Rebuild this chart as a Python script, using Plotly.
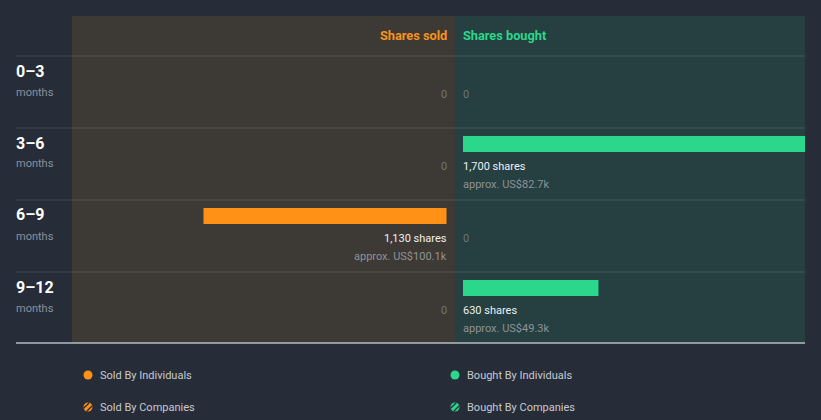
import plotly.graph_objects as go

# ---- data ----
periods = ["0\u20133", "3\u20136", "6\u20139", "9\u201312"]
period_unit = ["months", "months", "months", "months"]
sold_shares = [0, 0, 1130, 0]
sold_value = ["", "", "US$100.1k", ""]
bought_shares = [0, 1700, 0, 630]
bought_value = ["", "US$82.7k", "", "US$49.3k"]
legend_labels = ["Sold By Individuals", "Bought By Individuals",
                 "Sold By Companies", "Bought By Companies"]

# ---- style / layout ----
W, H = 821, 420
BG = "#262c38"
SOLD_BG = "#3d3935"
BOUGHT_BG = "#263f41"
ORANGE = "#ff9216"
GREEN = "#2bd78a"
FONT = "Roboto"

ROW_H = 72.0          # px per row
ROW0_CENTER = 92.0    # px centre of first row
PX_PER_SHARE = 243.0 / 1130.0

SOLD_L, MID, BOUGHT_R = 72, 455, 805
SOLD_ZERO, BOUGHT_ZERO = 446.5, 463
PANEL_T, PANEL_B = 16, 343
PAD = 2  # annotation inner padding compensation


def px(x):
    return x / W


def py(y):
    return 1 - y / H


fig = go.Figure()

fig.add_trace(go.Bar(
    x=sold_shares, y=list(range(len(periods))), orientation="h",
    xaxis="x", yaxis="y", marker=dict(color=ORANGE, line=dict(width=0)),
    offset=-28 / ROW_H, width=16 / ROW_H, hoverinfo="skip", showlegend=False,
))
fig.add_trace(go.Bar(
    x=bought_shares, y=list(range(len(periods))), orientation="h",
    xaxis="x2", yaxis="y", marker=dict(color=GREEN, line=dict(width=0)),
    offset=-28 / ROW_H, width=16 / ROW_H, hoverinfo="skip", showlegend=False,
))

shapes = []
# panels
shapes.append(dict(type="rect", xref="paper", yref="paper", layer="below",
                   x0=px(SOLD_L), x1=px(MID), y0=py(PANEL_B), y1=py(PANEL_T),
                   fillcolor=SOLD_BG, line=dict(width=0)))
shapes.append(dict(type="rect", xref="paper", yref="paper", layer="below",
                   x0=px(MID), x1=px(BOUGHT_R), y0=py(PANEL_B), y1=py(PANEL_T),
                   fillcolor=BOUGHT_BG, line=dict(width=0)))
# row separators
for i in range(len(periods)):
    ytop = ROW0_CENTER - ROW_H / 2 + ROW_H * i
    shapes.append(dict(type="line", xref="paper", yref="paper", layer="above",
                       x0=px(16), x1=px(BOUGHT_R), y0=py(ytop), y1=py(ytop),
                       line=dict(color="rgba(255,255,255,0.13)", width=1)))
shapes.append(dict(type="line", xref="paper", yref="paper", layer="above",
                   x0=px(16), x1=px(BOUGHT_R), y0=py(PANEL_B), y1=py(PANEL_B),
                   line=dict(color="#b4bcc2", width=1.5)))

annotations = []
annotations.append(dict(text="<b>Shares sold</b>", xref="paper", yref="paper",
                        x=px(447), y=py(35), xanchor="right", yanchor="middle", xshift=PAD,
                        showarrow=False, font=dict(family=FONT, size=12.75, color="#f7931a")))
annotations.append(dict(text="<b>Shares bought</b>", xref="paper", yref="paper",
                        x=px(463), y=py(35), xanchor="left", yanchor="middle", xshift=-PAD,
                        showarrow=False, font=dict(family=FONT, size=12.75, color=GREEN)))

for i, (p, u) in enumerate(zip(periods, period_unit)):
    c = ROW0_CENTER + ROW_H * i
    annotations.append(dict(text="<b>%s</b>" % p, xref="paper", yref="paper",
                            x=px(16), y=py(c - 21), xanchor="left", yanchor="middle",
                            xshift=-PAD,
                            showarrow=False, font=dict(family=FONT, size=16, color="#ffffff")))
    annotations.append(dict(text=u, xref="paper", yref="paper",
                            x=px(16), y=py(c), xanchor="left", yanchor="middle",
                            xshift=-PAD,
                            showarrow=False, font=dict(family=FONT, size=11, color="#8c919b")))


def value_labels(shares, value, xref, anchor):
    sh = PAD if anchor == "right" else -PAD
    for i, (s, v) in enumerate(zip(shares, value)):
        if s == 0:
            annotations.append(dict(text="0", xref=xref, yref="y", x=0, y=i + 2 / ROW_H,
                                    xanchor=anchor, yanchor="middle", showarrow=False,
                                    xshift=sh,
                                    font=dict(family=FONT, size=11, color="#6f747a")))
        else:
            annotations.append(dict(text="{:,} shares".format(s), xref=xref, yref="y",
                                    x=0, y=i + 2 / ROW_H, xanchor=anchor, yanchor="middle",
                                    showarrow=False, xshift=sh,
                                    font=dict(family=FONT, size=11, color="#f0f0f0")))
            annotations.append(dict(text="approx. " + v, xref=xref, yref="y",
                                    x=0, y=i + 20 / ROW_H, xanchor=anchor, yanchor="middle",
                                    showarrow=False, xshift=sh,
                                    font=dict(family=FONT, size=11, color="#8e9397")))


value_labels(sold_shares, sold_value, "x", "right")
value_labels(bought_shares, bought_value, "x2", "left")

# legend
leg_pos = [(88, 375, ORANGE, False), (455, 375, GREEN, False),
           (88, 407, ORANGE, True), (455, 407, GREEN, True)]
for (cx, cy, col, striped), lab in zip(leg_pos, legend_labels):
    r = 4.5
    shapes.append(dict(type="circle", xref="paper", yref="paper",
                       x0=px(cx - r), x1=px(cx + r), y0=py(cy + r), y1=py(cy - r),
                       fillcolor=col, line=dict(width=0)))
    if striped:
        for d in (-2.2, 2.2):
            hl = (r * r - d * d) ** 0.5
            ox, oy = d * 0.7071, d * 0.7071
            dx, dy = hl * 0.7071, -hl * 0.7071
            shapes.append(dict(type="line", xref="paper", yref="paper",
                               x0=px(cx + ox - dx), y0=py(cy + oy - dy),
                               x1=px(cx + ox + dx), y1=py(cy + oy + dy),
                               line=dict(color=BG, width=1.3)))
    annotations.append(dict(text=lab, xref="paper", yref="paper",
                            x=px(cx + 12), y=py(cy), xanchor="left", yanchor="middle",
                            xshift=-PAD,
                            showarrow=False, font=dict(family=FONT, size=11, color="#c6cad0")))

fig.update_layout(
    width=W, height=H, margin=dict(l=0, r=0, t=0, b=0),
    paper_bgcolor=BG, plot_bgcolor="rgba(0,0,0,0)",
    showlegend=False, barmode="overlay",
    font=dict(family=FONT),
    xaxis=dict(domain=[px(SOLD_L), px(MID)],
               range=[(SOLD_ZERO - SOLD_L) / PX_PER_SHARE, -(MID - SOLD_ZERO) / PX_PER_SHARE],
               visible=False, fixedrange=True),
    xaxis2=dict(domain=[px(MID), px(BOUGHT_R)],
                range=[-(BOUGHT_ZERO - MID) / PX_PER_SHARE, (BOUGHT_R - BOUGHT_ZERO) / PX_PER_SHARE],
                visible=False, anchor="y", fixedrange=True),
    yaxis=dict(domain=[0, 1], range=[(H - ROW0_CENTER) / ROW_H, -ROW0_CENTER / ROW_H],
               visible=False, fixedrange=True),
    shapes=shapes, annotations=annotations,
)

fig.write_html(
    "out.html",
    config={"displayModeBar": False},
    post_script="document.body.style.margin='0';document.body.style.background='%s';" % BG,
)
